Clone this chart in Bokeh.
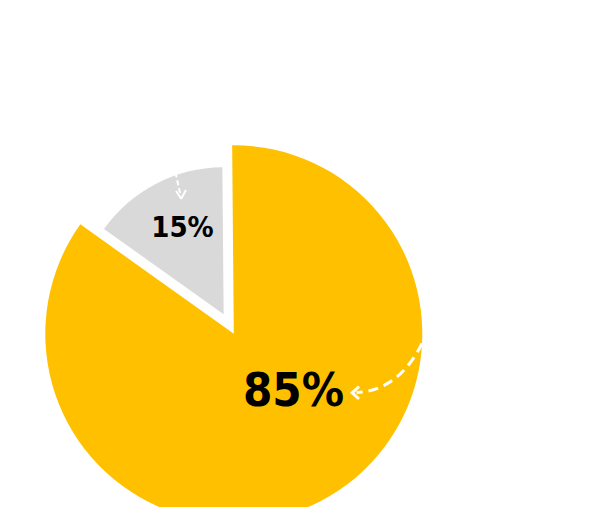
import math
from bokeh.plotting import figure
from bokeh.models import Range1d, ColumnDataSource
from bokeh.core.properties import value
from bokeh.embed import file_html
from bokeh.resources import INLINE

# ---- data ----
categories = ["Other", "Main"]
shares = [15, 85]
labels = ["15%", "85%"]
colors = ["#D9D9D9", "#FFC000"]

# ---- layout (image pixel coordinates, y measured upward) ----
W, H = 584, 507
IMG_H = 523
p = figure(width=W, height=H, x_range=Range1d(0, W), y_range=Range1d(IMG_H - H, IMG_H),
           output_backend="svg", toolbar_location=None, x_axis_type=None, y_axis_type=None,
           min_border=0)
p.grid.visible = False
p.outline_line_color = None
p.background_fill_color = "white"
p.border_fill_color = "white"


def Y(v):
    return IMG_H - v


cx, cy = 233.3, Y(333.3)
R_main = 188.5
R_small = 147
explode = 22
gap_mid = math.radians(117.5)

total = sum(shares)
spans = [s / total * 2 * math.pi for s in shares]
g_start = gap_mid - spans[0] / 2
g_end = g_start + spans[0]

gx = cx + explode * math.cos(gap_mid)
gy = cy + explode * math.sin(gap_mid)

src = ColumnDataSource(dict(
    x=[gx, cx], y=[gy, cy], r=[R_small, R_main],
    start=[g_start, g_end], end=[g_end, g_start + 2 * math.pi],
    color=colors, cat=categories,
))
p.wedge(x="x", y="y", radius="r", start_angle="start", end_angle="end",
        fill_color="color", line_color=None, source=src)

# ---- labels ----
lab_src = ColumnDataSource(dict(
    x=[182, 293], y=[Y(226), Y(389)], text=labels, size=["29px", "47px"],
))
p.text(x="x", y="y", text="text", text_font_size="size", source=lab_src,
       text_font=value("DejaVu Sans Condensed, DejaVu Sans, sans-serif"), text_font_style="bold",
       text_color="black", text_align="center", text_baseline="middle")

# ---- big dashed curved arrow ----
p.quadratic(x0=[421.5], y0=[Y(343)], x1=[356], y1=[Y(392)], cx=[398], cy=[Y(390)],
            line_color="white", line_width=3, line_dash="10 6")
p.multi_line(xs=[[358.5, 351.7, 358.5]], ys=[[Y(386), Y(392.3), Y(398.5)]],
             line_color="white", line_width=3, line_join="miter")

# ---- small dashed arrow ----
p.line(x=[175, 180.3], y=[Y(172), Y(196)], line_color="white", line_width=2, line_dash="5 3")
p.multi_line(xs=[[175.5, 180.7, 185.5]], ys=[[Y(190.5), Y(198.3), Y(189.5)]],
             line_color="white", line_width=2)

open("out.html", "w").write(file_html(p, INLINE))
